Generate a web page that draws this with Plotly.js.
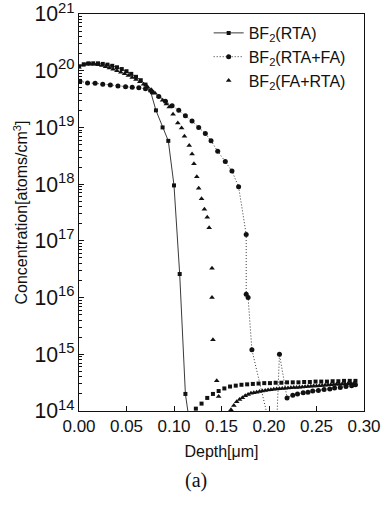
<!DOCTYPE html>
<html>
<head>
<meta charset="utf-8">
<script src="https://cdn.plot.ly/plotly-3.0.1.min.js"></script>
<style>html,body{margin:0;padding:0;background:#fff;}#chart{width:383px;height:507px;}</style>
</head>
<body>
<div id="chart"></div>
<script>
// BF2(RTA) - main profile (squares, solid line)
const rtaX = [0, 0.005, 0.010, 0.015, 0.020, 0.025, 0.030, 0.035, 0.040, 0.045, 0.050, 0.055, 0.060, 0.065, 0.070, 0.075, 0.081, 0.088, 0.094, 0.100, 0.106, 0.112, 0.118];
const rtaY = [1.2e20, 1.3e20, 1.35e20, 1.35e20, 1.35e20, 1.32e20, 1.28e20, 1.22e20, 1.15e20, 1.07e20, 9.8e19, 8.8e19, 7.8e19, 6.8e19, 5.7e19, 4.5e19, 2.0e19, 1.0e19, 5.8e18, 9.5e17, 2.6e16, 2.0e14, 4e13];
// BF2(RTA) - background tail (squares only)
const rtaTailX = [0.123, 0.129, 0.135, 0.141, 0.147, 0.153, 0.159, 0.165, 0.171, 0.177, 0.183, 0.189, 0.195, 0.201, 0.207, 0.213, 0.219, 0.225, 0.231, 0.237, 0.243, 0.249, 0.255, 0.261, 0.267, 0.273, 0.279, 0.285, 0.291];
const rtaTailY = [1.1e14, 1.35e14, 1.7e14, 2.0e14, 2.25e14, 2.5e14, 2.7e14, 2.8e14, 2.9e14, 2.95e14, 3.0e14, 3.05e14, 3.1e14, 3.1e14, 3.15e14, 3.15e14, 3.2e14, 3.2e14, 3.2e14, 3.25e14, 3.25e14, 3.3e14, 3.3e14, 3.3e14, 3.35e14, 3.35e14, 3.4e14, 3.4e14, 3.4e14];
// BF2(RTA+FA) (circles, dotted line)
const rtaFaX = [0.001, 0.009, 0.017, 0.025, 0.033, 0.041, 0.049, 0.056, 0.063, 0.070, 0.077, 0.084, 0.091, 0.098, 0.105, 0.112, 0.119, 0.126, 0.133, 0.139, 0.146, 0.154, 0.161, 0.168, 0.176, 0.176, 0.178, 0.182, 0.207, 0.211, 0.219, 0.225, 0.230, 0.236, 0.241, 0.246, 0.252, 0.258, 0.264, 0.269, 0.275, 0.281, 0.287, 0.291];
const rtaFaY = [6.5e19, 6.1e19, 6.0e19, 5.8e19, 5.6e19, 5.4e19, 5.2e19, 5.1e19, 5.0e19, 4.8e19, 4.2e19, 3.5e19, 2.9e19, 2.4e19, 2.0e19, 1.6e19, 1.3e19, 1.0e19, 7.8e18, 5.8e18, 3.8e18, 2.5e18, 1.7e18, 9e17, 1.3e17, 1.15e16, 1.0e16, 1.2e15, 2e13, 1.0e15, 1.7e14, 1.9e14, 2.0e14, 2.1e14, 2.15e14, 2.25e14, 2.3e14, 2.4e14, 2.45e14, 2.55e14, 2.6e14, 2.7e14, 2.8e14, 2.9e14];
// BF2(FA+RTA) (triangles only)
const faRtaX = [0, 0.004, 0.008, 0.012, 0.016, 0.020, 0.024, 0.028, 0.032, 0.036, 0.040, 0.044, 0.048, 0.052, 0.056, 0.060, 0.064, 0.068, 0.072, 0.076, 0.080, 0.084, 0.088, 0.092, 0.095, 0.099, 0.104, 0.108, 0.111, 0.116, 0.119, 0.121, 0.124, 0.126, 0.129, 0.132, 0.135, 0.137, 0.140, 0.140, 0.141, 0.145, 0.147,
  0.160, 0.163, 0.166, 0.169, 0.172, 0.175, 0.178, 0.181, 0.184, 0.187, 0.190, 0.193, 0.196, 0.199, 0.202, 0.205, 0.208, 0.211, 0.214, 0.217, 0.220, 0.223, 0.226, 0.229, 0.232, 0.235, 0.238, 0.241, 0.244, 0.247, 0.250, 0.253, 0.256, 0.259, 0.262, 0.265, 0.268, 0.271, 0.274, 0.277, 0.280, 0.283, 0.286, 0.289];
const faRtaY = [1.15e20, 1.25e20, 1.3e20, 1.3e20, 1.3e20, 1.28e20, 1.24e20, 1.18e20, 1.12e20, 1.06e20, 1.0e20, 9.4e19, 8.8e19, 8.2e19, 7.6e19, 7.0e19, 6.4e19, 5.8e19, 5.2e19, 4.6e19, 4.0e19, 3.5e19, 3.0e19, 2.6e19, 2.3e19, 1.7e19, 1.2e19, 9.8e18, 7e18, 4.8e18, 3.4e18, 2.3e18, 1.35e18, 8.5e17, 5.5e17, 3.6e17, 2.6e17, 1.7e17, 3.3e16, 1.0e16, 1.8e15, 3.4e14, 1.8e14,
  1.05e14, 1.25e14, 1.45e14, 1.6e14, 1.72e14, 1.85e14, 1.95e14, 2.05e14, 2.1e14, 2.15e14, 2.2e14, 2.25e14, 2.3e14, 2.35e14, 2.38e14, 2.42e14, 2.45e14, 2.48e14, 2.5e14, 2.52e14, 2.55e14, 2.57e14, 2.6e14, 2.6e14, 2.62e14, 2.65e14, 2.67e14, 2.7e14, 2.72e14, 2.75e14, 2.77e14, 2.8e14, 2.82e14, 2.85e14, 2.87e14, 2.9e14, 2.92e14, 2.95e14, 2.97e14, 3.0e14, 3.0e14, 3.02e14, 3.05e14, 3.05e14];

const seriesNames = ['BF<sub>2</sub>(RTA)', 'BF<sub>2</sub>(RTA+FA)', 'BF<sub>2</sub>(FA+RTA)'];
const xTickVals = [0, 0.05, 0.10, 0.15, 0.20, 0.25, 0.30];
const xTickText = ['0.00', '0.05', '0.10', '0.15', '0.20', '0.25', '0.30'];

const font = 'Liberation Sans, Arial, sans-serif';

const traces = [
  {x: rtaX, y: rtaY, name: seriesNames[0], type: 'scatter', mode: 'lines+markers',
   line: {color: '#3a3a3a', width: 1}, marker: {symbol: 'square', size: 4, color: '#111'}},
  {x: rtaFaX, y: rtaFaY, name: seriesNames[1], type: 'scatter', mode: 'lines+markers',
   line: {color: '#333', width: 1, dash: '1px,2px'}, marker: {symbol: 'circle', size: 5, color: '#111'}},
  {x: faRtaX, y: faRtaY, name: seriesNames[2], type: 'scatter', mode: 'markers',
   marker: {symbol: 'triangle-up', size: 5, color: '#111'}},
  {x: rtaTailX, y: rtaTailY, name: seriesNames[0], type: 'scatter', mode: 'markers', showlegend: false,
   marker: {symbol: 'square', size: 4, color: '#111'}}
];

const layout = {
  width: 383, height: 507,
  margin: {l: 79, r: 19, t: 14, b: 96},
  paper_bgcolor: '#fff', plot_bgcolor: '#fff',
  font: {family: font, size: 16, color: '#111'},
  showlegend: true,
  legend: {x: 0.455, y: 0.995, xanchor: 'left', yanchor: 'top', bgcolor: 'rgba(0,0,0,0)',
           font: {family: font, size: 16, color: '#111'}, tracegroupgap: 0},
  xaxis: {
    range: [0, 0.30], tickvals: xTickVals, ticktext: xTickText,
    ticks: 'inside', ticklen: 5, tickcolor: '#111', showgrid: false, zeroline: false,
    showline: true, linecolor: '#111', linewidth: 1, mirror: true,
    ticklabeloverflow: 'allow',
    tickfont: {family: font, size: 17, color: '#111'},
    title: {text: 'Depth[μm]', font: {family: font, size: 16, color: '#111'}, standoff: 10}
  },
  yaxis: {
    type: 'log', range: [14, 21], dtick: 1, exponentformat: 'power', showexponent: 'all',
    ticks: 'inside', ticklen: 5, tickcolor: '#111', showgrid: false, zeroline: false,
    showline: true, linecolor: '#111', linewidth: 1, mirror: true,
    ticklabeloverflow: 'allow',
    minor: {ticks: 'inside', ticklen: 3, dtick: 'D1', tickcolor: '#111', showgrid: false},
    tickfont: {family: font, size: 17, color: '#111'},
    title: {text: 'Concentration[atoms/cm<sup>3</sup>]', font: {family: font, size: 16, color: '#111'}, standoff: 2}
  },
  annotations: [
    {text: '(a)', xref: 'paper', yref: 'paper', x: 0.41, y: -0.176, xanchor: 'center', yanchor: 'middle',
     showarrow: false, font: {family: 'Liberation Serif, Times New Roman, serif', size: 20, color: '#111'}}
  ]
};

Plotly.newPlot('chart', traces, layout, {displayModeBar: false, staticPlot: true});
</script>
</body>
</html>
